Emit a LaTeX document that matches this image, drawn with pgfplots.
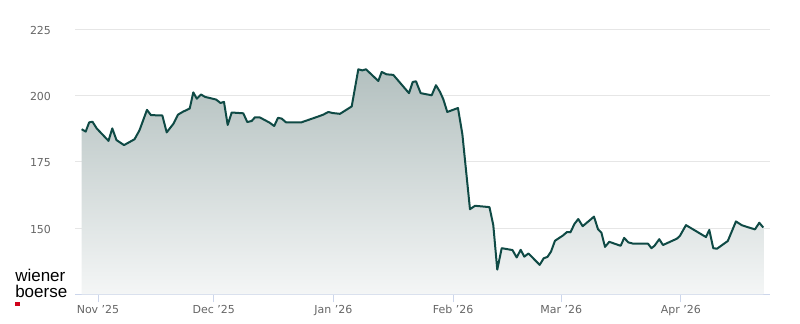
\documentclass[border=0pt]{standalone}
\usepackage{pgfplots}
\pgfplotsset{compat=1.18}
\usepackage{pgfplotstable}
\usepackage{fontspec}
\setmainfont{DejaVu Sans}
\newfontfamily\logofont{Liberation Sans}
\definecolor{linecol}{HTML}{0F4A45}
\definecolor{filltop}{HTML}{B3C0BF}
\definecolor{fillbot}{HTML}{F4F6F6}
\definecolor{gridcol}{HTML}{E6E6E6}
\definecolor{axiscol}{HTML}{CCD6EB}
\definecolor{tickgray}{HTML}{666666}
\definecolor{logored}{HTML}{D0021B}
\pgfplotstableread{
x y
-4.22 187.3
-3.19 186.4
-2.28 189.9
-1.42 190.1
-0.34 187.6
2.72 182.9
3.70 187.6
4.79 183.2
6.74 181.3
9.46 183.5
10.75 186.9
12.69 194.6
13.73 192.6
16.66 192.5
17.80 186.1
19.51 189.3
20.73 192.8
22.02 193.9
23.76 195.1
24.69 201.2
25.60 198.8
26.68 200.4
27.72 199.5
30.57 198.5
31.74 197.2
32.64 197.6
33.60 188.9
34.64 193.6
37.64 193.3
38.68 190.0
39.82 190.4
40.67 191.8
41.84 191.8
44.43 189.8
45.65 188.5
46.63 191.6
47.59 191.3
48.70 189.9
52.72 189.9
57.07 192.1
58.37 192.8
59.66 193.8
60.80 193.4
62.69 193.1
65.73 195.9
67.44 209.9
68.47 209.5
69.43 209.9
72.62 205.5
73.50 208.9
74.79 208.0
76.50 207.8
80.57 200.9
81.53 205.1
82.38 205.4
83.60 200.9
86.45 200.1
87.56 203.9
88.60 201.4
89.46 198.6
90.49 193.8
93.26 195.3
94.40 185.4
96.37 157.1
97.67 158.4
101.42 157.9
102.41 151.1
103.44 134.3
104.59 142.4
107.38 141.7
108.47 138.9
109.51 141.8
110.44 139.2
111.53 140.4
114.43 136.1
115.47 138.6
116.45 139.1
117.36 141.1
118.39 145.2
120.47 147.2
121.50 148.5
122.41 148.4
123.45 151.6
124.43 153.4
125.57 150.7
128.50 154.3
129.53 149.6
130.44 148.2
131.35 142.9
132.46 144.8
135.41 143.3
136.32 146.3
137.38 144.6
138.68 144.1
142.49 144.1
143.39 142.4
144.17 143.3
145.41 145.8
146.37 143.6
150.00 146.0
150.78 147.1
152.33 151.1
157.51 146.6
158.37 149.3
159.40 142.4
160.36 142.2
163.16 145.1
165.28 152.5
166.76 151.1
168.19 150.4
170.21 149.5
171.32 152.0
172.36 150.2
}\pricedata
\begin{document}
\begin{tikzpicture}
\useasboundingbox (-56.25pt,-22.275pt) rectangle (543.75pt,220.725pt);
\begin{axis}[
  at={(0,0)}, anchor=south west,
  scale only axis, width=521.25pt, height=198.75pt,
  xmin=-5.96, xmax=174.1, ymin=125, ymax=225,
  axis x line*=bottom, axis y line*=left,
  x axis line style={draw=axiscol, line width=0.75pt, -},
  y axis line style={draw=none},
  ytick={150,175,200,225},
  xtick={0,30,61,92,120,151},
  xticklabels={Nov '25,Dec '25,Jan '26,Feb '26,Mar '26,Apr '26},
  tick align=outside,
  major tick length=6pt,
  xtick style={draw=axiscol, line width=0.75pt},
  ytick style={draw=none},
  ymajorgrids,
  major grid style={draw=gridcol, line width=0.75pt},
  /pgf/number format/assume math mode=true,
  xticklabel style={font=\fontsize{8.25}{10}\selectfont, text=tickgray, anchor=north, inner sep=0pt, yshift=-2pt},
  yticklabel style={font=\fontsize{8.25}{10}\selectfont, text=tickgray, anchor=east, inner sep=0pt, xshift=-11.8pt, yshift=-0.75pt},
  clip=false,
]
\addplot[draw=none, top color=filltop, bottom color=fillbot] table[x=x,y=y] {\pricedata} -- (axis cs:172.36,125) -- (axis cs:-4.22,125) -- cycle;
\addplot[color=linecol, line width=1.5pt, line join=round, mark=none] table[x=x,y=y] {\pricedata};
\end{axis}
\node[anchor=base west, inner sep=0pt, font=\logofont\fontsize{12.75}{14}\selectfont] at (-45pt,9.5pt) {wiener};
\node[anchor=base west, inner sep=0pt, font=\logofont\fontsize{12.75}{14}\selectfont] at (-45pt,-2.5pt) {boerse};
\fill[logored] (-45pt,-5.8pt) rectangle (-41.5pt,-8.5pt);
\end{tikzpicture}
\end{document}
